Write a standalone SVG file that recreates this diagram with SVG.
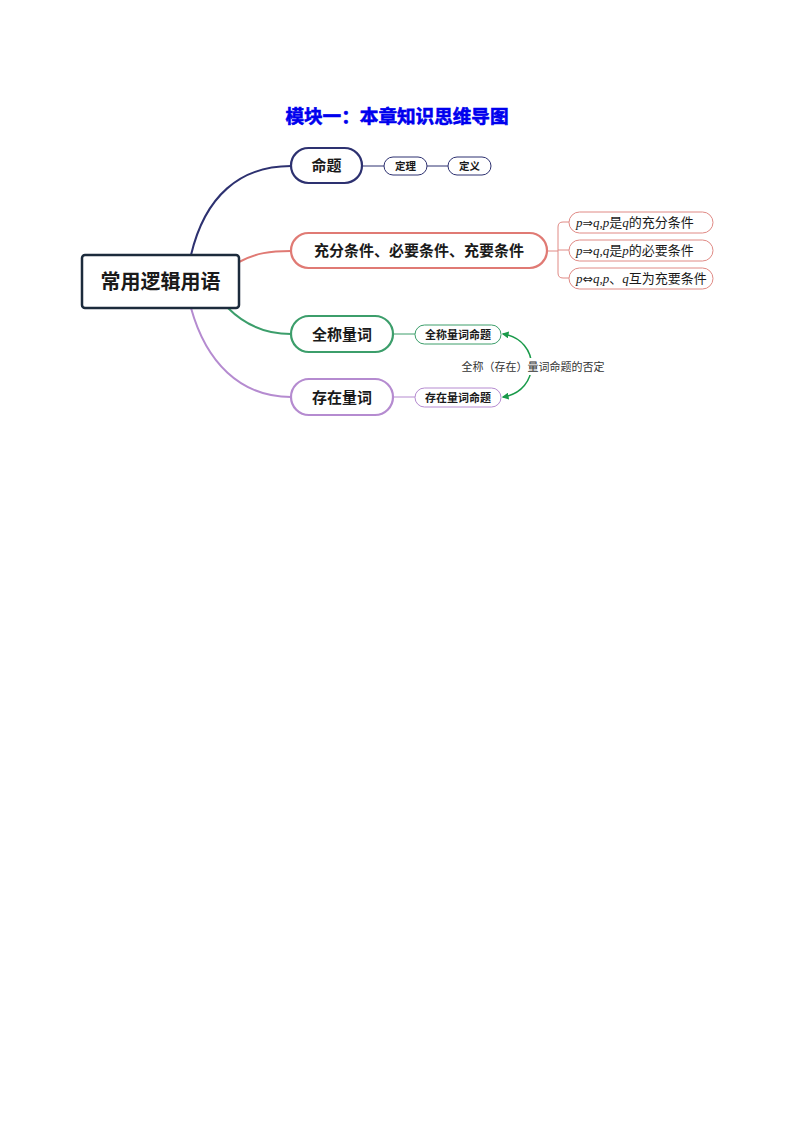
<svg xmlns="http://www.w3.org/2000/svg" width="794" height="1123" viewBox="0 0 794 1123">
<defs>
<style>
.cjk{font-family:"Noto Sans CJK SC","Noto Sans",sans-serif;}
.b{font-weight:bold;}
.ser{font-family:"Liberation Serif","Noto Sans CJK SC",serif;}
.ar{font-family:"DejaVu Sans",sans-serif;font-size:12.5px;}
.i{font-style:italic;}
text{fill:#1a1a1a;}
.main{fill:#fff;stroke-width:2.2;}
.sub{fill:#fff;stroke-width:1;}
.edge{fill:none;stroke-width:2;}
.thin{fill:none;stroke-width:1;}
</style>
<marker id="ah" viewBox="0 0 10 10" refX="8" refY="5" markerWidth="7" markerHeight="7" orient="auto-start-reverse" markerUnits="userSpaceOnUse">
<path d="M0,0 L10,5 L0,10 z" fill="#1a9a4a"/>
</marker>
</defs>
<rect width="794" height="1123" fill="#fff"/>
<text x="397" y="123" text-anchor="middle" class="cjk b" font-size="18.6" style="fill:#0000ee" stroke="#0000ee" stroke-width="0.6">模块一：本章知识思维导图</text>

<g id="connectors">
<path class="edge" stroke="#2d3170" d="M191,255 C205,196 240,166 291,166"/>
<path class="edge" stroke="#e07a74" d="M239,262 C256,253 270,251 291,251"/>
<path class="edge" stroke="#3c9e6b" d="M228,308 C246,326 266,334 291,334"/>
<path class="edge" stroke="#b58bd0" d="M191,308 C206,362 240,397 291,397"/>
<path class="thin" stroke="#2d3170" d="M362,166 H384 M427,166 H448"/>
<path class="thin" stroke="#e08a85" d="M547,251 H558 M569,222 H563 Q558,222 558,227 V273 Q558,278 563,278 H569 M558,250 H569"/>
<path class="thin" stroke="#3c9e6b" d="M393,334 H415"/>
<path class="thin" stroke="#b58bd0" d="M393,397 H415"/>
<path fill="none" stroke="#1a9a4a" stroke-width="1.5" d="M503,334 C541,340 541,391 503,397" marker-start="url(#ah)" marker-end="url(#ah)"/>
<rect x="458" y="358" width="150" height="17" fill="#fff"/>
<text x="533" y="370.5" text-anchor="middle" class="cjk" font-size="11" style="fill:#333">全称（存在）量词命题的否定</text>
</g>

<g id="center">
<rect x="82" y="255" width="157" height="53" rx="3" fill="#fff" stroke="#1c2b3c" stroke-width="2.5"/>
<text x="160.5" y="289" text-anchor="middle" class="cjk b" font-size="20">常用逻辑用语</text>
</g>

<g id="n-mingti">
<rect class="main" x="291" y="148" width="71" height="35" rx="17.5" stroke="#2d3170"/>
<text x="326.5" y="171" text-anchor="middle" class="cjk b" font-size="15">命题</text>
</g>
<g id="n-dingli">
<rect class="sub" x="384" y="157" width="43" height="18" rx="9" stroke="#2d3170"/>
<text x="405.5" y="170" text-anchor="middle" class="cjk b" font-size="10.5">定理</text>
</g>
<g id="n-dingyi">
<rect class="sub" x="448" y="157" width="43" height="18" rx="9" stroke="#2d3170"/>
<text x="469.5" y="170" text-anchor="middle" class="cjk b" font-size="10.5">定义</text>
</g>

<g id="n-tiaojian">
<rect class="main" x="291" y="233" width="256" height="35" rx="17.5" stroke="#e07a74"/>
<text x="419" y="256" text-anchor="middle" class="cjk b" font-size="15">充分条件、必要条件、充要条件</text>
</g>
<g id="n-chongfen">
<rect class="sub" x="569" y="212" width="144" height="21" rx="10.5" stroke="#e08a85"/>
<text x="576" y="227" class="ser" font-size="13"><tspan class="i">p</tspan><tspan class="ar">⇒</tspan><tspan class="i">q</tspan>,<tspan class="i">p</tspan>是<tspan class="i">q</tspan>的充分条件</text>
</g>
<g id="n-biyao">
<rect class="sub" x="569" y="240" width="144" height="21" rx="10.5" stroke="#e08a85"/>
<text x="576" y="255" class="ser" font-size="13"><tspan class="i">p</tspan><tspan class="ar">⇒</tspan><tspan class="i">q</tspan>,<tspan class="i">q</tspan>是<tspan class="i">p</tspan>的必要条件</text>
</g>
<g id="n-chongyao">
<rect class="sub" x="569" y="268" width="144" height="21" rx="10.5" stroke="#e08a85"/>
<text x="576" y="283" class="ser" font-size="13"><tspan class="i">p</tspan><tspan class="ar">⇔</tspan><tspan class="i">q</tspan>,<tspan class="i">p</tspan>、<tspan class="i">q</tspan>互为充要条件</text>
</g>

<g id="n-quancheng">
<rect class="main" x="291" y="316" width="102" height="36" rx="18" stroke="#3c9e6b"/>
<text x="342" y="339.5" text-anchor="middle" class="cjk b" font-size="15">全称量词</text>
</g>
<g id="n-quancheng-mt">
<rect class="sub" x="415" y="325" width="86" height="19" rx="9.5" stroke="#3c9e6b"/>
<text x="458" y="338.5" text-anchor="middle" class="cjk b" font-size="11">全称量词命题</text>
</g>

<g id="n-cunzai">
<rect class="main" x="291" y="379" width="102" height="36" rx="18" stroke="#b58bd0"/>
<text x="342" y="402.5" text-anchor="middle" class="cjk b" font-size="15">存在量词</text>
</g>
<g id="n-cunzai-mt">
<rect class="sub" x="415" y="388" width="86" height="19" rx="9.5" stroke="#b58bd0"/>
<text x="458" y="401.5" text-anchor="middle" class="cjk b" font-size="11">存在量词命题</text>
</g>
</svg>
